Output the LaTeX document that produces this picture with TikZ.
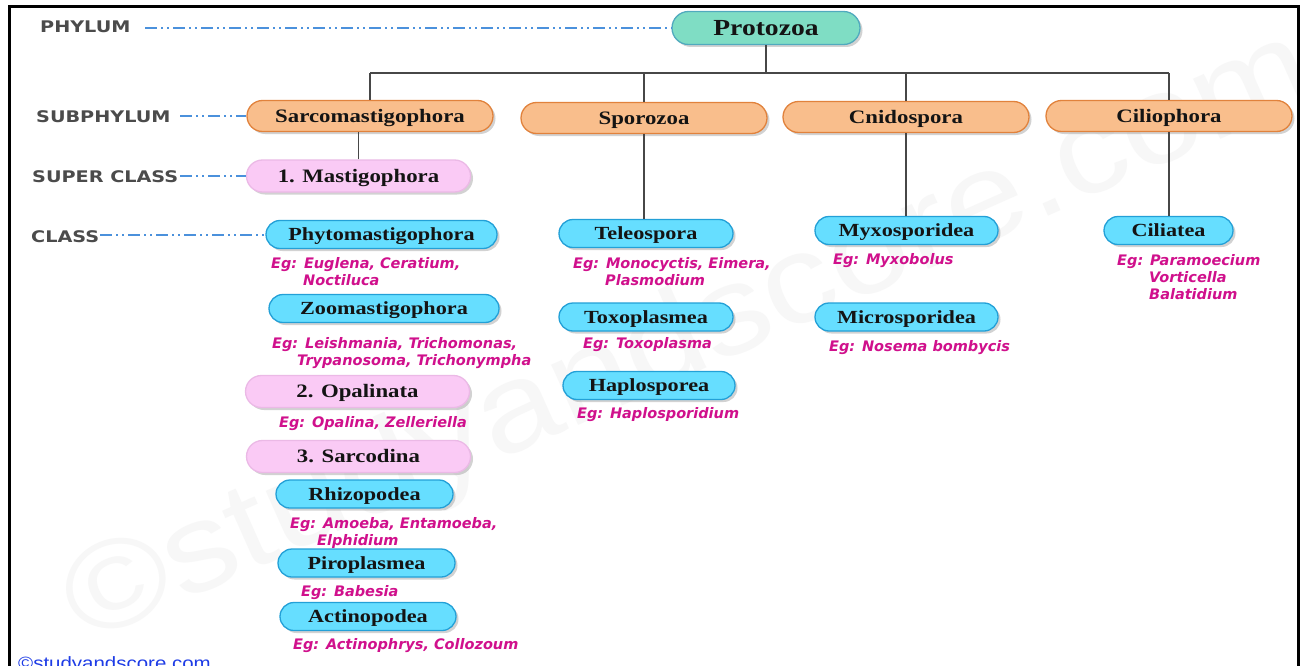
\documentclass[tikz,border=0pt]{standalone}
\usepackage{fontspec}
\usetikzlibrary{shapes.misc,shadows}
\newfontfamily\nodefont[FakeStretch=1.2]{Liberation Serif}
\newfontfamily\egfont{DejaVu Sans}
\newfontfamily\lblfont[FakeStretch=1.2]{DejaVu Sans}
\newfontfamily\cpfont[FakeStretch=1.15]{Liberation Sans}
\definecolor{tealf}{RGB}{127,221,196}
\definecolor{tealb}{RGB}{80,170,190}
\definecolor{oranf}{RGB}{249,190,140}
\definecolor{oranb}{RGB}{225,130,60}
\definecolor{pinkf}{RGB}{250,202,245}
\definecolor{pinkb}{RGB}{235,185,230}
\definecolor{cyanf}{RGB}{102,222,255}
\definecolor{cyanb}{RGB}{35,160,215}
\definecolor{egmag}{RGB}{208,16,140}
\definecolor{lblgray}{RGB}{75,75,75}
\definecolor{guideblue}{RGB}{75,145,220}
\definecolor{cpblue}{RGB}{30,60,230}
\begin{document}
\begin{tikzpicture}[x=1pt,y=-1pt,
  pill/.style={rounded rectangle, draw, line width=1.3pt, inner sep=0pt, text=black!92,
    text height=12.6pt, text depth=0pt,
    font=\nodefont\bfseries\fontsize{19}{22}\selectfont,
    drop shadow={shadow xshift=2.5pt,shadow yshift=-2.5pt,opacity=0.35}},
  phylumbox/.style={pill, fill=tealf, draw=tealb, minimum width=188pt, minimum height=33pt,
    text height=15.2pt, font=\nodefont\bfseries\fontsize{23}{26}\selectfont},
  subbox/.style={pill, fill=oranf, draw=oranb, minimum width=246pt, minimum height=31pt},
  superbox/.style={pill, fill=pinkf, draw=pinkb, minimum width=224pt, minimum height=32pt},
  classbox/.style={pill, fill=cyanf, draw=cyanb, minimum height=28pt,
    text height=12.2pt, font=\nodefont\bfseries\fontsize{18.5}{21}\selectfont},
  eg/.style={anchor=north west, inner sep=0pt, align=left, text=egmag,
    font=\egfont\bfseries\itshape\fontsize{14.5}{17}\selectfont},
  lvl/.style={anchor=west, inner sep=0pt, text=lblgray,
    font=\lblfont\bfseries\fontsize{16}{19}\selectfont},
  guide/.style={draw=guideblue, line width=1.3pt,
    dash pattern=on 12pt off 4pt on 2pt off 4pt on 2pt off 4pt},
  link/.style={draw=black!72, line width=1.6pt}
]
\useasboundingbox (0,0) rectangle (1300,666);
\fill[white] (0,0) rectangle (1300,666);
% watermark
\node[rotate=24, text=black!3, font=\cpfont\fontsize{125}{125}\selectfont] (wm) at (690,340) {©studyandscore.com};
% frame
\draw[line width=3pt] (9,680) -- (9,7) -- (1298,7) -- (1298,680);

% level labels
\node[lvl] (lphy) at (40,27) {PHYLUM};
\node[lvl] (lsub) at (36,117) {SUBPHYLUM};
\node[lvl] (lsup) at (32,177) {SUPER CLASS};
\node[lvl] (lcls) at (31,237) {CLASS};
\coordinate (gphy) at (145,28);
\coordinate (gsub) at (180,116);
\coordinate (gsup) at (180,176);
\coordinate (gcls) at (100,235);

% nodes
\node[phylumbox] (proto) at (766,28) {Protozoa};
\node[subbox] (sarco) at (370,116) {Sarcomastigophora};
\node[subbox] (sporo) at (644,118) {Sporozoa};
\node[subbox] (cnido) at (906,117) {Cnidospora};
\node[subbox] (cilio) at (1169,116) {Ciliophora};

\node[superbox] (mast) at (358.5,176) {1. Mastigophora};
\node[superbox] (opal) at (357.5,391.5) {2. Opalinata};
\node[superbox] (sarcod) at (358.5,456.5) {3. Sarcodina};

\node[classbox, minimum width=231pt] (phyto) at (381.5,234.5) {Phytomastigophora};
\node[classbox, minimum width=230pt] (zoom) at (384,308.5) {Zoomastigophora};
\node[classbox, minimum width=177pt] (rhizo) at (364.5,494) {Rhizopodea};
\node[classbox, minimum width=177pt] (piro) at (366.5,563) {Piroplasmea};
\node[classbox, minimum width=176pt] (actino) at (368,616.5) {Actinopodea};
\node[classbox, minimum width=174pt] (teleo) at (646,233.5) {Teleospora};
\node[classbox, minimum width=174pt] (toxo) at (646,317) {Toxoplasmea};
\node[classbox, minimum width=172pt] (haplo) at (649,385.5) {Haplosporea};
\node[classbox, minimum width=183pt] (myxo) at (906.5,230.5) {Myxosporidea};
\node[classbox, minimum width=183pt] (micro) at (906.5,317) {Microsporidea};
\node[classbox, minimum width=129pt] (cilia) at (1168.5,230.5) {Ciliatea};

% examples
\node[eg] (eg1) at (271,257) {Eg: Euglena, Ceratium,\\\hspace*{32pt}Noctiluca};
\node[eg] (eg2) at (272,337) {Eg: Leishmania, Trichomonas,\\\hspace*{25pt}Trypanosoma, Trichonympha};
\node[eg] (eg3) at (279,416) {Eg: Opalina, Zelleriella};
\node[eg] (eg4) at (290,517) {Eg: Amoeba, Entamoeba,\\\hspace*{27pt}Elphidium};
\node[eg] (eg5) at (301,585) {Eg: Babesia};
\node[eg] (eg6) at (293,638) {Eg: Actinophrys, Collozoum};
\node[eg] (eg7) at (573,257) {Eg: Monocyctis, Eimera,\\\hspace*{32pt}Plasmodium};
\node[eg] (eg8) at (583,337) {Eg: Toxoplasma};
\node[eg] (eg9) at (577,407) {Eg: Haplosporidium};
\node[eg] (eg10) at (833,253) {Eg: Myxobolus};
\node[eg] (eg11) at (829,340) {Eg: Nosema bombycis};
\node[eg] (eg12) at (1117,254) {Eg: Paramoecium\\\hspace*{32pt}Vorticella\\\hspace*{32pt}Balatidium};

% copyright
\node[anchor=base west, inner sep=0pt, text=cpblue, font=\cpfont\fontsize{17.8}{20}\selectfont] (copy) at (18,669) {©studyandscore.com};

% guides
\draw[guide] (gphy) -- (gphy -| proto.west);
\draw[guide] (gsub) -- (gsub -| sarco.west);
\draw[guide] (gsup) -- (gsup -| mast.west);
\draw[guide] (gcls) -- (gcls -| phyto.west);

% tree connectors
\coordinate (bus) at (0,73);
\draw[link] (proto.south) -- (proto.south |- bus);
\draw[link] (sarco.north |- bus) -- (cilio.north |- bus);
\draw[link] (sarco.north |- bus) -- (sarco.north);
\draw[link] (sporo.north |- bus) -- (sporo.north);
\draw[link] (cnido.north |- bus) -- (cnido.north);
\draw[link] (cilio.north |- bus) -- (cilio.north);
\draw[link] (mast.north) -- (mast.north |- sarco.south);
\draw[link] (sporo.south) -- (sporo.south |- teleo.north);
\draw[link] (cnido.south) -- (cnido.south |- myxo.north);
\draw[link] (cilio.south) -- (cilio.south |- cilia.north);
\end{tikzpicture}
\end{document}
